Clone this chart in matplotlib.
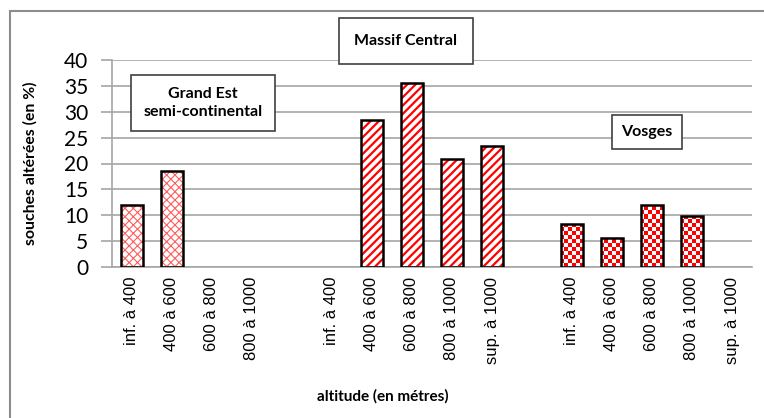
import numpy as np
import matplotlib
matplotlib.use("Agg")
import matplotlib.pyplot as plt
from matplotlib.patches import Rectangle

# altitude classes for each region (empty slots separate the regions)
grand_est_labels = ['inf. à 400', '400 à 600', '600 à 800', '800 à 1000']
grand_est_values = [12.0, 18.5, 0, 0]

massif_labels = ['inf. à 400', '400 à 600', '600 à 800', '800 à 1000', 'sup. à 1000']
massif_values = [0, 28.4, 35.6, 20.8, 23.4]

vosges_labels = ['inf. à 400', '400 à 600', '600 à 800', '800 à 1000', 'sup. à 1000']
vosges_values = [8.4, 5.7, 12.0, 9.8, 0]

group_names = ['Grand Est\nsemi-continental', 'Massif Central', 'Vosges']
yticks = [0, 5, 10, 15, 20, 25, 30, 35, 40]

calibri_like = ['Lato', 'DejaVu Sans']
grid_col = '#a6a6a6'

fig = plt.figure(figsize=(7.64, 4.18), dpi=100)
ax = fig.add_axes([112 / 764, 1 - 267 / 418, 640 / 764, 207 / 418])

# slot positions: one empty slot between regions
pos_ge = np.arange(len(grand_est_values))
pos_mc = np.arange(len(massif_values)) + len(grand_est_values) + 1
pos_vo = np.arange(len(vosges_values)) + pos_mc[-1] + 2
n_slots = pos_vo[-1] + 1
width = 0.53

ax.set_xlim(-0.5, n_slots - 0.5)
ax.set_ylim(0, 40)
ax.set_yticks(yticks)
ax.yaxis.grid(True, color=grid_col, linewidth=1.2)
ax.set_axisbelow(True)

def hatched(pos, vals, hatch, color, hlw):
    with plt.rc_context({'hatch.linewidth': hlw, 'hatch.color': color}):
        bars = ax.bar(pos, vals, width=width, color='white', edgecolor=color,
                      linewidth=0, hatch=hatch, zorder=2)
        for b in bars:
            if hasattr(b, 'set_hatch_linewidth'):
                b.set_hatch_linewidth(hlw)
    return bars

hatched(pos_ge, grand_est_values, 'xxxx', '#ff5c5c', 0.8)
hatched(pos_mc, massif_values, '////', '#ff0000', 1.6)

# checkerboard fill for Vosges, clipped to each bar
vo_bars = ax.bar(pos_vo, vosges_values, width=width, color='white', linewidth=0, zorder=2)
yy, xx = np.indices((52, 160))
checker = ((yy + xx) % 2).astype(float)
cmap = matplotlib.colors.ListedColormap(['#ff0000', 'white'])
for b in vo_bars:
    if b.get_height() <= 0:
        continue
    im = ax.imshow(checker, cmap=cmap, interpolation='nearest', aspect='auto',
                   extent=(0, 1, 0, 1), transform=ax.transAxes, zorder=2.5)
    im.set_clip_path(b)

# black outlines on top
for pos, vals in [(pos_ge, grand_est_values), (pos_mc, massif_values), (pos_vo, vosges_values)]:
    v = np.array(vals, dtype=float)
    keep = v > 0
    ax.bar(pos[keep], v[keep], width=width, fill=False, edgecolor='black',
           linewidth=1.8, zorder=3)
ax.set_xlim(-0.5, n_slots - 0.5)

# category labels
ticks = list(pos_ge) + list(pos_mc) + list(pos_vo)
labels = grand_est_labels + massif_labels + vosges_labels
ax.set_xticks(ticks)
ax.set_xticklabels(labels, rotation=90, family='Liberation Sans', fontsize=12)
ax.tick_params(axis='x', length=0, pad=7)
ax.tick_params(axis='y', length=8, color=grid_col, width=1.2, labelsize=15, pad=9)
for t in ax.get_yticklabels():
    t.set_family(calibri_like)

for s in ['top', 'right']:
    ax.spines[s].set_visible(False)
ax.spines['left'].set_color(grid_col)
ax.spines['left'].set_linewidth(1.2)
ax.spines['bottom'].set_color(grid_col)
ax.spines['bottom'].set_linewidth(1.2)

ax.set_ylabel('souches altérées (en %)', family=calibri_like, fontweight='bold',
              fontsize=11.3)
ax.yaxis.set_label_coords(-74 / 640, 0.5)
fig.text(383 / 764, 1 - 396 / 418, 'altitude (en métres)', family=calibri_like,
         fontweight='bold', fontsize=11, ha='center', va='center')

# region name boxes
fig.text(203 / 764, 1 - 103 / 418, group_names[0], family=calibri_like, fontweight='bold',
         fontsize=11.5, ha='center', va='center', linespacing=1.4,
         bbox=dict(boxstyle='square,pad=0.75', facecolor='white', edgecolor='#404040', linewidth=1.2))
fig.text(406 / 764, 1 - 41 / 418, group_names[1], family=calibri_like, fontweight='bold',
         fontsize=11.5, ha='center', va='center',
         bbox=dict(boxstyle='square,pad=1.0', facecolor='white', edgecolor='#404040', linewidth=1.2))
fig.text(647 / 764, 1 - 132 / 418, group_names[2], family=calibri_like, fontweight='bold',
         fontsize=11.5, ha='center', va='center',
         bbox=dict(boxstyle='square,pad=0.6', facecolor='white', edgecolor='#404040', linewidth=1.2))

# outer chart frame
fig.patches.append(Rectangle((10 / 764, -0.1), 1.2, 1 - 11 / 418 + 0.1, transform=fig.transFigure,
                             fill=False, edgecolor='#8c8c8c', linewidth=1.5))

fig.savefig('out.png', dpi=100)
